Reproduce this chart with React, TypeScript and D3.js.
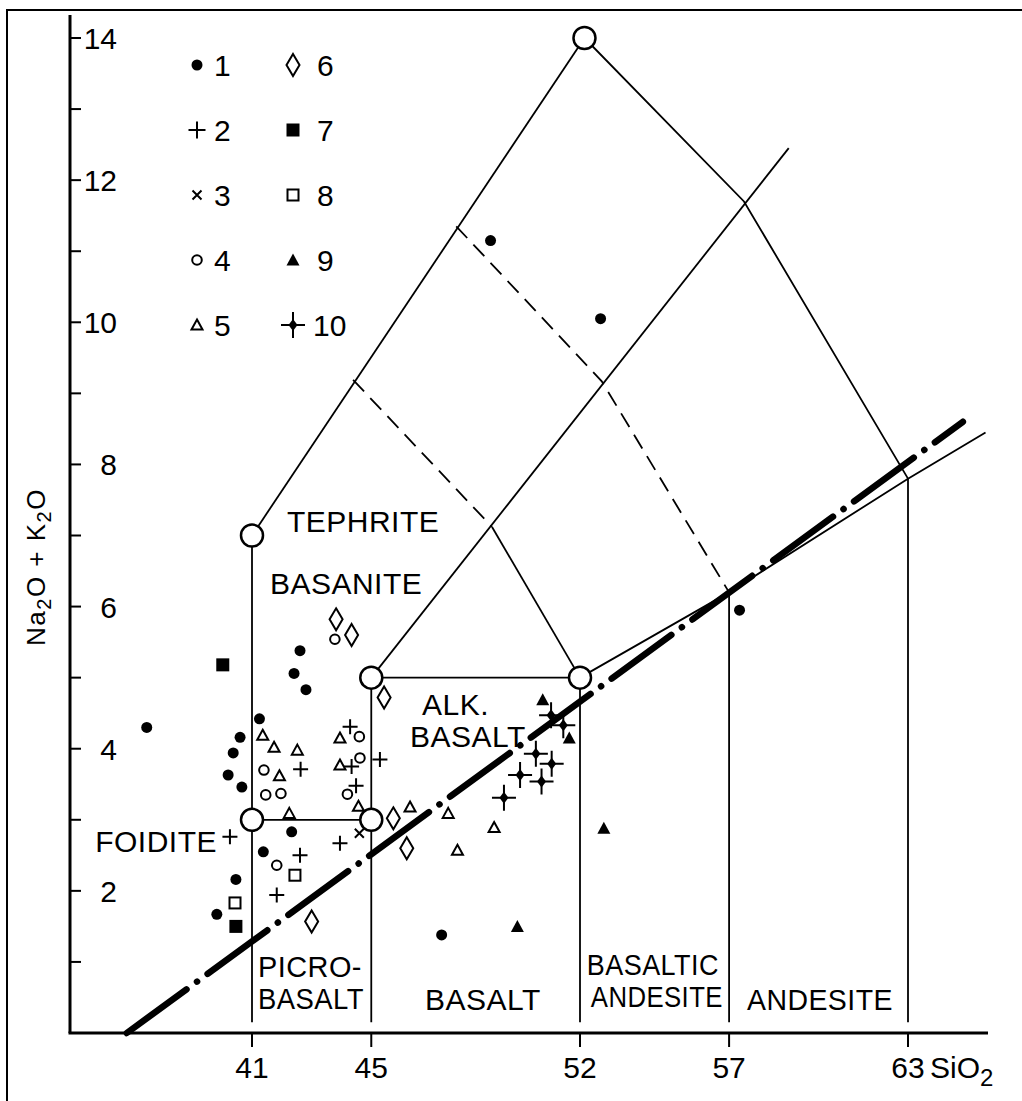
import { useEffect } from 'react';
import * as d3 from 'd3';

const W = 1022;
const H = 1101;
const FONT = "'Liberation Sans', Arial, sans-serif";

// axis ticks
const xTicks = [41, 45, 52, 57, 63];
const yMinorTicks = d3.range(1, 15);
const yTickLabels = [2, 4, 6, 8, 10, 12, 14];

// samples: [SiO2, Na2O + K2O]
const group1 = [
  [37.47, 4.3], [42.61, 5.38], [42.41, 5.06], [42.81, 4.83], [41.25, 4.42],
  [40.6, 4.16], [40.37, 3.94], [40.2, 3.63], [40.66, 3.46], [42.33, 2.83],
  [41.38, 2.55], [40.46, 2.16], [39.82, 1.67], [47.36, 1.38], [49.0, 11.15],
  [52.69, 10.05], [57.35, 5.95],
];
const group2 = [
  [42.63, 3.71], [44.29, 4.31], [44.34, 3.75], [45.29, 3.85], [44.49, 3.48],
  [40.26, 2.76], [43.95, 2.67], [42.61, 2.5], [41.83, 1.94],
];
const group3 = [[44.6, 2.81]];
const group4 = [
  [41.4, 3.7], [41.46, 3.35], [41.97, 3.37], [44.6, 4.17], [44.62, 3.87],
  [44.2, 3.36], [41.83, 2.36], [43.78, 5.54],
];
const group5 = [
  [41.36, 4.19], [41.74, 4.02], [42.52, 3.98], [41.92, 3.62], [42.25, 3.09],
  [43.95, 4.15], [43.95, 3.77], [44.57, 3.19], [46.3, 3.18], [47.58, 3.09],
  [49.12, 2.89], [47.89, 2.57],
];
const group6 = [[43.82, 5.82], [44.34, 5.6], [45.43, 4.72], [45.74, 3.02], [46.19, 2.6], [43.0, 1.57]];
const group7 = [[40.02, 5.18], [40.46, 1.5]];
const group8 = [[42.44, 2.22], [40.43, 1.83]];
const group9 = [[50.75, 4.69], [51.64, 4.15], [52.8, 2.88], [49.9, 1.5]];
const group10 = [
  [51.03, 4.47], [51.44, 4.33], [50.52, 3.93], [51.05, 3.79], [49.99, 3.63],
  [50.71, 3.54], [49.45, 3.31],
];

const groupKinds = ['dot', 'plus', 'cross', 'ring', 'tri', 'diamond', 'square', 'box', 'ftri', 'star'];
const groups = [group1, group2, group3, group4, group5, group6, group7, group8, group9, group10];

// field boundaries (TAS)
const solidLines = [
  [[41, 0.15], [41, 7]],
  [[45, 0.15], [45, 5]],
  [[52, 0.15], [52, 5]],
  [[57, 0.15], [57, 6.2]],
  [[63, 0.15], [63, 7.8]],
  [[41, 3], [45, 3]],
  [[45, 5], [52, 5]],
  [[41, 7], [52.15, 14]],
  [[52.15, 14], [57.5, 11.7], [63, 7.8]],
  [[45, 5], [59, 12.45]],
  [[49.05, 7.12], [52, 5]],
  [[52, 5], [57, 6.2], [63, 7.8], [65.6, 8.45]],
];
const dashedLines = [
  [[44.39, 9.19], [49.05, 7.12]],
  [[47.85, 11.35], [52.73, 9.17], [57, 6.2]],
];
const alkalineLine = [[36.8, 0], [64.84, 8.6]];
const vertices = [[41, 7], [41, 3], [45, 3], [45, 5], [52, 5], [52.15, 14]];

const fieldNames = [
  ['TEPHRITE'], ['BASANITE'], ['FOIDITE'], ['ALK.', 'BASALT'], ['PICRO-', 'BASALT'],
  ['BASALT'], ['BASALTIC', 'ANDESITE'], ['ANDESITE'],
];

function Marker({ kind, cx, cy, big = false }: { kind: string; cx: number; cy: number; big?: boolean }) {
  const k = { stroke: '#000', strokeWidth: 2, fill: 'none' };
  switch (kind) {
    case 'dot':
      return <circle cx={cx} cy={cy} r={5.5} fill="#000" />;
    case 'plus': {
      const a = big ? 8.5 : 7.5;
      return <path d={`M${cx - a},${cy}H${cx + a}M${cx},${cy - a}V${cy + a}`} {...k} />;
    }
    case 'cross':
      return <path d={`M${cx - 4.5},${cy - 4.5}L${cx + 4.5},${cy + 4.5}M${cx + 4.5},${cy - 4.5}L${cx - 4.5},${cy + 4.5}`} {...k} />;
    case 'ring':
      return <circle cx={cx} cy={cy} r={4.8} {...k} />;
    case 'tri':
      return <path d={`M${cx},${cy - 5.5}L${cx + 5.5},${cy + 4.5}L${cx - 5.5},${cy + 4.5}Z`} {...k} />;
    case 'diamond':
      return <path d={`M${cx},${cy - 11}L${cx + 6.5},${cy}L${cx},${cy + 11}L${cx - 6.5},${cy}Z`} {...k} />;
    case 'square':
      return <rect x={cx - 6.5} y={cy - 6.5} width={13} height={13} fill="#000" />;
    case 'box':
      return <rect x={cx - 5.5} y={cy - 5.5} width={11} height={11} {...k} />;
    case 'ftri':
      return <path d={`M${cx},${cy - 6.5}L${cx + 6.5},${cy + 5.5}L${cx - 6.5},${cy + 5.5}Z`} fill="#000" />;
    case 'star':
      return (
        <g>
          <path d={`M${cx - 12},${cy}H${cx + 12}M${cx},${cy - 13}V${cy + 13}`} {...k} />
          <path d={`M${cx},${cy - 6}L${cx + 4.5},${cy}L${cx},${cy + 6}L${cx - 4.5},${cy}Z`} fill="#000" />
        </g>
      );
    default:
      return null;
  }
}

export default function App() {
  useEffect(() => {
    document.body.style.margin = '0';
  }, []);

  const x = d3.scaleLinear().domain([41, 63]).range([252, 908]);
  const y = d3.scaleLinear().domain([0, 14]).range([1033, 38]);
  const line = d3.line<number[]>().x(d => x(d[0])).y(d => y(d[1]));

  const axisX0 = 70;
  const axisY0 = y(0);

  // label anchors in data space
  const fieldAnchors = [
    [42.17, 7.05], [41.6, 6.18], [35.74, 2.55], [46.3, 4.47], [41.2, 0.79],
    [46.8, 0.32], [52.23, 0.82], [57.6, 0.32],
  ];
  // squeezed rows (field index, row index) -> width in px
  const squeeze: Record<string, number> = { '6-0': 132, '6-1': 132, '4-0': 104, '4-1': 106, '7-0': 146 };
  const lineGap = 32;

  return (
    <svg width={W} height={H} style={{ display: 'block', background: '#fff' }} fontFamily={FONT}>
      {/* frame */}
      <path d={`M7,${H}V10H${W}`} fill="none" stroke="#000" strokeWidth={2} />

      {/* axes */}
      <line x1={axisX0} x2={axisX0} y1={15} y2={axisY0} stroke="#000" strokeWidth={3} />
      <line x1={axisX0 - 1.5} x2={988} y1={axisY0} y2={axisY0} stroke="#000" strokeWidth={3} />
      {yMinorTicks.map(v => (
        <line key={v} x1={axisX0} x2={axisX0 + 11} y1={y(v)} y2={y(v)} stroke="#000" strokeWidth={2} />
      ))}
      {yTickLabels.map(v => (
        <text key={v} x={117} y={y(v) + 11} textAnchor="end" fontSize={30}>{v}</text>
      ))}
      {xTicks.map(v => (
        <g key={v}>
          <line x1={x(v)} x2={x(v)} y1={axisY0} y2={axisY0 + 14} stroke="#000" strokeWidth={2} />
          <text x={x(v)} y={axisY0 + 45} textAnchor="middle" fontSize={30}>{v}</text>
        </g>
      ))}
      <text x={x(63) + 22} y={axisY0 + 45} fontSize={30}>
        SiO<tspan dy={8} fontSize={24}>2</tspan>
      </text>
      <text transform={`translate(45,567) rotate(-90)`} textAnchor="middle" fontSize={26} letterSpacing={1.5}>
        Na<tspan dy={6} fontSize={20}>2</tspan><tspan dy={-6}>O + K</tspan><tspan dy={6} fontSize={20}>2</tspan><tspan dy={-6}>O</tspan>
      </text>

      {/* field boundaries */}
      {solidLines.map((l, i) => (
        <path key={i} d={line(l) ?? ''} fill="none" stroke="#000" strokeWidth={1.8} />
      ))}
      {dashedLines.map((l, i) => (
        <path key={i} d={line(l) ?? ''} fill="none" stroke="#000" strokeWidth={1.8} strokeDasharray="16 9" />
      ))}
      <path d={line(alkalineLine) ?? ''} fill="none" stroke="#000" strokeWidth={6.5}
        strokeDasharray="74 13 0.1 13" strokeLinecap="round" />

      {/* field names */}
      {fieldNames.map((rows, i) => (
        <text key={i} y={y(fieldAnchors[i][1])} fontSize={30} letterSpacing={0.5}>
          {rows.map((r, j) => {
            const w = squeeze[`${i}-${j}`];
            return (
              <tspan key={j} x={x(fieldAnchors[i][0]) + (i === 3 && j === 0 ? 12 : 0) + (i === 6 && j === 1 ? 4 : 0)}
                dy={j === 0 ? 0 : lineGap} textLength={w} lengthAdjust={w ? 'spacingAndGlyphs' : undefined}>{r}</tspan>
            );
          })}
        </text>
      ))}

      {/* samples */}
      {groups.map((g, gi) =>
        g.map((p, pi) => <Marker key={`${gi}-${pi}`} kind={groupKinds[gi]} cx={x(p[0])} cy={y(p[1])} />)
      )}

      {/* vertex circles */}
      {vertices.map((v, i) => (
        <circle key={i} cx={x(v[0])} cy={y(v[1])} r={11} fill="#fff" stroke="#000" strokeWidth={2.5} />
      ))}

      {/* legend */}
      {groupKinds.map((kind, i) => {
        const col = Math.floor(i / 5);
        const row = i % 5;
        const sx = col === 0 ? 197 : 293;
        const sy = 65 + row * 65;
        return (
          <g key={kind}>
            <Marker kind={kind} cx={sx} cy={sy} big />
            <text x={sx + (col === 0 ? 17 : i === 9 ? 20 : 24)} y={sy + 11} fontSize={30}>{i + 1}</text>
          </g>
        );
      })}
    </svg>
  );
}
